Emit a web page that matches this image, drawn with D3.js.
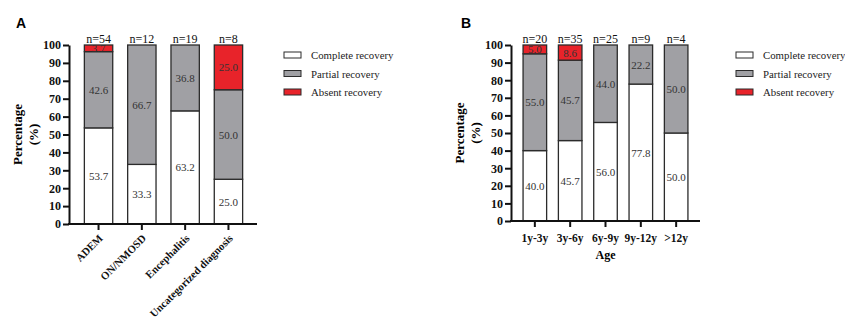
<!DOCTYPE html>
<html>
<head>
<meta charset="utf-8">
<script src="https://cdn.jsdelivr.net/npm/d3@7"></script>
<style>
  body { margin: 0; background: #fff; }
</style>
</head>
<body>
<script>
// panel A: diagnosis groups
var catsA = ["ADEM", "ON/NMOSD", "Encephalitis", "Uncategorized diagnosis"];
var nA = [54, 12, 19, 8];
var completeA = [53.7, 33.3, 63.2, 25.0];
var partialA = [42.6, 66.7, 36.8, 50.0];
var absentA = [3.7, 0, 0, 25.0];

// panel B: age groups
var catsB = ["1y-3y", "3y-6y", "6y-9y", "9y-12y", ">12y"];
var nB = [20, 35, 25, 9, 4];
var completeB = [40.0, 45.7, 56.0, 77.8, 50.0];
var partialB = [55.0, 45.7, 44.0, 22.2, 50.0];
var absentB = [5.0, 8.6, 0, 0, 0];

var yTicks = [0, 10, 20, 30, 40, 50, 60, 70, 80, 90, 100];
var seriesNames = ["Complete recovery", "Partial recovery", "Absent recovery"];
var colors = ["#ffffff", "#a0a0a4", "#e8232a"];

var serif = "'Liberation Serif', 'Times New Roman', serif";

var svg = d3.select("body").append("svg")
    .attr("width", 845)
    .attr("height", 322)
    .style("font-family", serif);

function drawPanel(opt) {
    var g = svg.append("g");
    var rows = opt.cats.map(function(c, i) {
        return { cat: c, n: opt.n[i], vals: [opt.complete[i], opt.partial[i], opt.absent[i]] };
    });

    var x = d3.scaleBand().domain(opt.cats)
        .range(opt.xRange).paddingInner(opt.padIn).paddingOuter(opt.padOut);
    var y = d3.scaleLinear().domain([0, 100]).range(opt.yRange);

    // stacked bars
    rows.forEach(function(r) {
        var base = 0;
        r.vals.forEach(function(v, k) {
            if (v > 0) {
                g.append("rect")
                    .attr("x", x(r.cat))
                    .attr("y", y(base + v))
                    .attr("width", x.bandwidth())
                    .attr("height", y(base) - y(base + v))
                    .attr("fill", colors[k])
                    .attr("stroke", "#2b2b2b")
                    .attr("stroke-width", 1.3);
                g.append("text")
                    .attr("x", x(r.cat) + x.bandwidth() / 2)
                    .attr("y", y(base + v / 2) + 4)
                    .attr("text-anchor", "middle")
                    .attr("font-size", 11)
                    .attr("fill", "#333")
                    .text(v.toFixed(1));
            }
            base += v;
        });
        g.append("text")
            .attr("x", x(r.cat) + x.bandwidth() / 2)
            .attr("y", y(100) - 2)
            .attr("text-anchor", "middle")
            .attr("font-size", 12)
            .attr("fill", "#111")
            .text("n=" + r.n);
    });

    // y axis
    var yAxis = g.append("g")
        .attr("transform", "translate(" + opt.axisX + ",0)")
        .call(d3.axisLeft(y).tickValues(yTicks).tickSize(6).tickPadding(2).tickSizeOuter(0));
    yAxis.attr("font-family", null);
    yAxis.select(".domain").attr("stroke", "#111").attr("stroke-width", 2);
    yAxis.selectAll(".tick line").attr("stroke", "#111").attr("stroke-width", 2);
    yAxis.selectAll(".tick text")
        .attr("font-weight", "bold")
        .attr("font-size", 12)
        .attr("fill", "#111");

    // x axis
    var xAxis = g.append("g")
        .attr("transform", "translate(0," + opt.yRange[0] + ")")
        .call(d3.axisBottom(x).tickSize(6).tickSizeOuter(0));
    xAxis.attr("font-family", null);
    xAxis.select(".domain").remove();
    xAxis.selectAll(".tick line").attr("stroke", "#111").attr("stroke-width", 2);
    xAxis.append("line")
        .attr("x1", opt.axisX - 1).attr("x2", opt.axisEnd)
        .attr("y1", 0).attr("y2", 0)
        .attr("stroke", "#111").attr("stroke-width", 2);
    var tt = xAxis.selectAll(".tick text")
        .attr("font-weight", "bold")
        .attr("font-size", opt.rotate ? 10.8 : 11.5)
        .attr("fill", "#111");
    if (opt.rotate) {
        tt.attr("text-anchor", "end")
            .attr("y", 0).attr("dy", 0)
            .attr("transform", "translate(5,15) rotate(-45)");
    } else {
        tt.attr("dy", "1.0em");
    }
    if (opt.xTitle) {
        g.append("text")
            .attr("x", (opt.xRange[0] + opt.xRange[1]) / 2)
            .attr("y", opt.yRange[0] + 38)
            .attr("text-anchor", "middle")
            .attr("font-weight", "bold")
            .attr("font-size", 12)
            .text(opt.xTitle);
    }

    // y title
    var yMid = (opt.yRange[0] + opt.yRange[1]) / 2;
    var yt = g.append("text")
        .attr("transform", "translate(" + opt.yTitleX + "," + yMid + ") rotate(-90)")
        .attr("text-anchor", "middle")
        .attr("font-weight", "bold")
        .attr("font-size", 13);
    yt.append("tspan").attr("x", 0).attr("dy", 0).text("Percentage");
    yt.append("tspan").attr("x", 0).attr("dy", 16).text("(%)");

    // panel letter
    g.append("text")
        .attr("x", opt.letterX).attr("y", 28)
        .style("font-family", "'Liberation Sans', Arial, sans-serif")
        .attr("font-weight", "bold")
        .attr("font-size", 14)
        .text(opt.letter);

    // legend
    seriesNames.forEach(function(s, k) {
        var ly = 55 + k * 18.5;
        g.append("rect")
            .attr("x", opt.legendX).attr("y", ly - 3)
            .attr("width", 17).attr("height", 6)
            .attr("fill", colors[k])
            .attr("stroke", "#2b2b2b").attr("stroke-width", 1);
        g.append("text")
            .attr("x", opt.legendX + 27).attr("y", ly + 4)
            .attr("font-size", 10.8)
            .attr("fill", "#222")
            .text(s);
    });
}

drawPanel({
    letter: "A", letterX: 16,
    cats: catsA, n: nA, complete: completeA, partial: partialA, absent: absentA,
    xRange: [77, 250], padIn: 0.345, padOut: 0.17,
    yRange: [224, 45], axisX: 69, axisEnd: 257,
    yTitleX: 22, rotate: true,
    legendX: 284
});

drawPanel({
    letter: "B", letterX: 461,
    cats: catsB, n: nB, complete: completeB, partial: partialB, absent: absentB,
    xRange: [516, 695], padIn: 0.333, padOut: 0.2,
    yRange: [221, 45], axisX: 511, axisEnd: 700,
    yTitleX: 464, rotate: false, xTitle: "Age",
    legendX: 736
});
</script>
</body>
</html>
